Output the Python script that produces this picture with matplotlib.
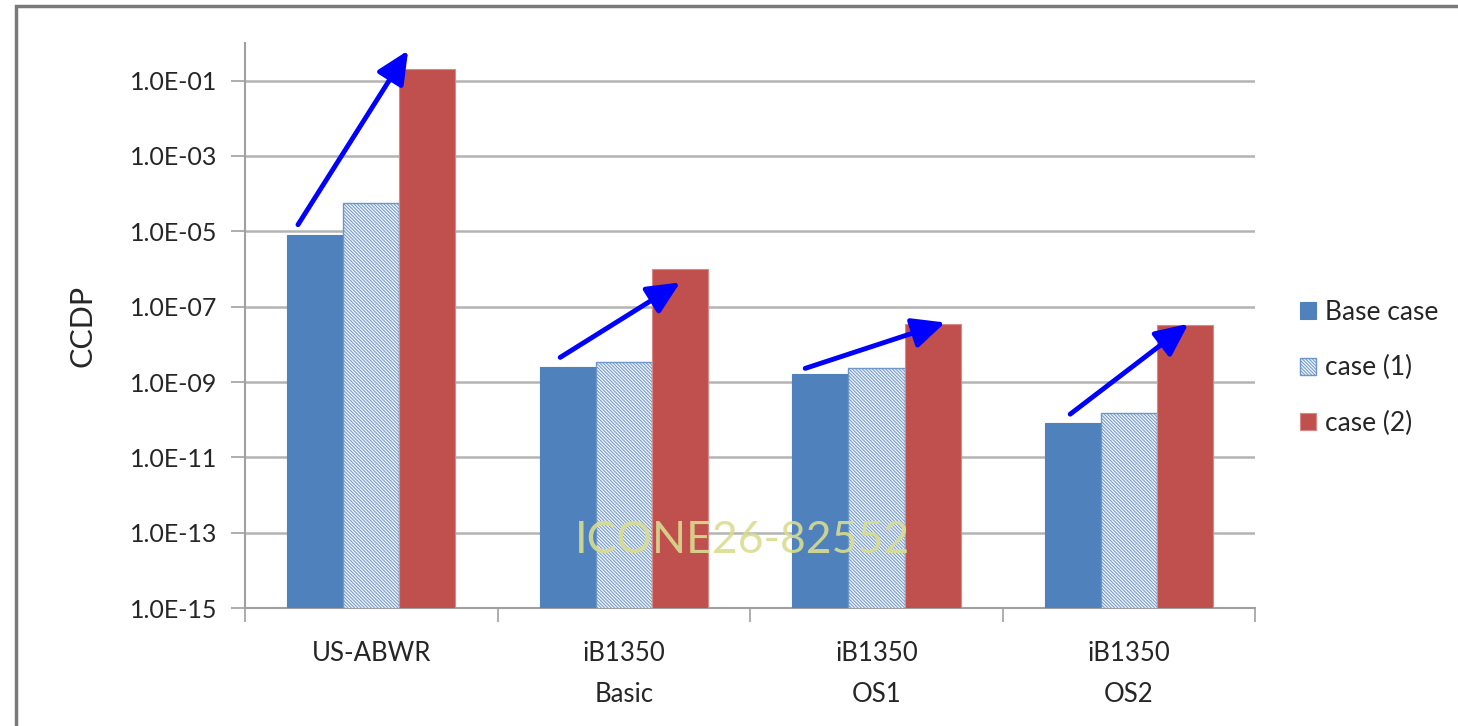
import matplotlib.pyplot as plt
import matplotlib.patches as mpatches
import numpy as np

plt.rcParams['font.family'] = ['Lato', 'DejaVu Sans']
plt.rcParams['hatch.linewidth'] = 0.7

# CCDP values per plant design
categories = ['US-ABWR', 'iB1350\nBasic', 'iB1350\nOS1', 'iB1350\nOS2']
base_case = [8.2e-6, 2.5e-9, 1.6e-9, 8.0e-11]
case_1 = [5.8e-5, 3.3e-9, 2.4e-9, 1.5e-10]
case_2 = [2.1e-1, 1.0e-6, 3.4e-8, 3.2e-8]
series_labels = ['Base case', 'case (1)', 'case (2)']
ytick_values = [1e-15, 1e-13, 1e-11, 1e-9, 1e-7, 1e-5, 1e-3, 1e-1]

# trend arrows (x in category units, y in CCDP)
arrows = [((-0.29, 1.5e-5), (0.146, 6.3e-1)),
          ((0.748, 4.5e-9), (1.223, 4.4e-7)),
          ((1.718, 2.3e-9), (2.272, 3.8e-8)),
          ((2.767, 1.4e-10), (3.235, 3.5e-8))]

blue = '#4f81bd'
red = '#c0504d'
text_col = '#262626'

fig = plt.figure(figsize=(14.58, 7.26), dpi=100)
ax = fig.add_axes([0.168, 0.1625, 0.693, 0.7783])

x = np.arange(len(categories))
w = 1 / 4.5
ax.bar(x - w, base_case, w, color=blue, edgecolor=blue, lw=0.8,
       label=series_labels[0], zorder=3)
ax.bar(x, case_1, w, color='#eef3f9', edgecolor='#6f96c8', hatch='\\' * 10,
       lw=1.0, label=series_labels[1], zorder=3)
ax.bar(x + w, case_2, w, color=red, edgecolor='#d98886', lw=0.8,
       label=series_labels[2], zorder=3)

ax.set_yscale('log')
ax.set_ylim(1e-15, 1)
ax.set_xlim(-0.5, len(categories) - 0.5)
ax.set_yticks(ytick_values)
ax.set_yticklabels(['1.0E-{:02d}'.format(-int(round(np.log10(v))))
                    for v in ytick_values])
ax.minorticks_off()
ax.yaxis.grid(True, color='#b4b4b4', lw=1.8, zorder=0)
ax.set_axisbelow(True)

ax.set_xticks(x)
ax.set_xticklabels(categories, linespacing=1.8)
ax.set_xticks(np.arange(-0.5, len(categories)), minor=True)
ax.tick_params(axis='x', which='major', length=0, pad=24, labelsize=18.5,
               colors=text_col)
ax.tick_params(axis='x', which='minor', length=10, width=1.2, color='#a0a0a0')
ax.tick_params(axis='y', length=10, width=1.2, color='#a0a0a0', pad=10,
               labelsize=18, labelcolor=text_col)

for side in ['top', 'right']:
    ax.spines[side].set_visible(False)
for side in ['left', 'bottom']:
    ax.spines[side].set_color('#a0a0a0')
    ax.spines[side].set_linewidth(1.5)

ax.set_ylabel('CCDP', fontsize=22, color=text_col, labelpad=24)

for (x0, y0), (x1, y1) in arrows:
    ax.annotate('', xy=(x1, y1), xytext=(x0, y0),
                arrowprops=dict(arrowstyle='-|>,head_length=0.9,head_width=0.42',
                                mutation_scale=22, color='#0000ff', lw=3.5,
                                shrinkA=0, shrinkB=0),
                zorder=5)

leg = ax.legend(loc='center left', bbox_to_anchor=(1300 / 1458, 1 - 368 / 726),
                bbox_transform=fig.transFigure, frameon=False, fontsize=19,
                handlelength=0.6, handleheight=0.6, handletextpad=0.35,
                labelspacing=1.15, borderpad=0, borderaxespad=0)
for t in leg.get_texts():
    t.set_color(text_col)

# watermark
fig.text(0.509, 0.256, 'ICONE26-82552', fontsize=32, color='#d9dd8f',
         alpha=0.9, ha='center', va='center', zorder=10)

# outer chart frame
fig.patches.append(mpatches.Rectangle((16 / 1458, -1.0), 2.0, 2.0 - 6 / 726,
                                      transform=fig.transFigure, fill=False,
                                      edgecolor='#7a7a7a', lw=2.5))

fig.savefig('out.png', dpi=100)
